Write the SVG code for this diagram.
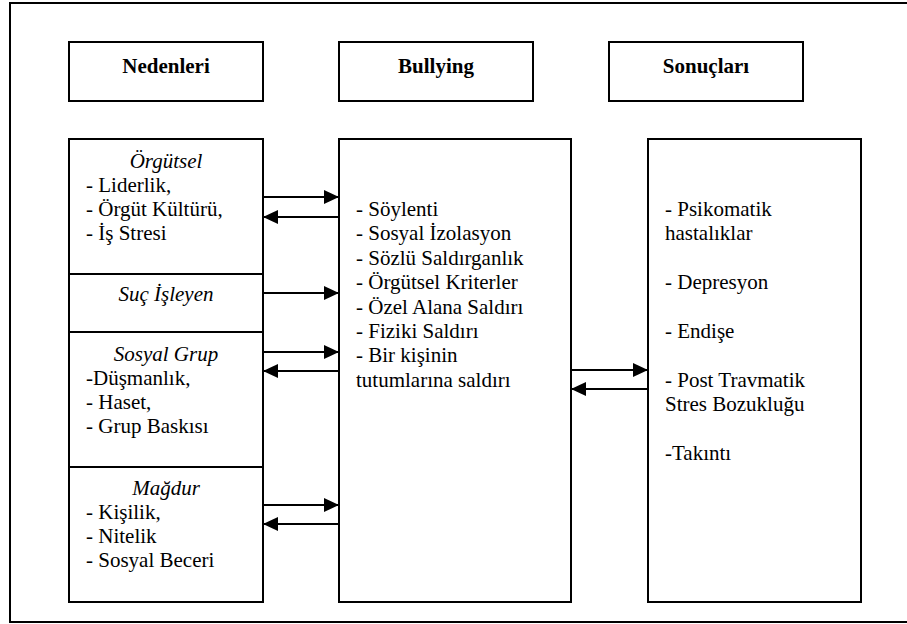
<svg xmlns="http://www.w3.org/2000/svg" width="907" height="624" viewBox="0 0 907 624">
<style>
.box{fill:#fff;stroke:#000;stroke-width:2}
.ln{stroke:#000;stroke-width:2;fill:none}
.t{font-family:"Liberation Serif","Times New Roman",serif;font-size:21px;fill:#000}
.h{font-weight:bold;text-anchor:middle}
.i{font-style:italic;text-anchor:middle}
.c{stroke:#000;stroke-width:2;fill:none}
</style>
<defs>
<marker id="ah" markerWidth="15" markerHeight="14" refX="15" refY="7" orient="auto" markerUnits="userSpaceOnUse">
<path d="M0,0 L15,7 L0,14 Z" fill="#000"/>
</marker>
</defs>
<rect width="907" height="624" fill="#fff"/>
<path class="ln" d="M910,3 H10 V622 H910"/>
<g id="h-nedenleri"><rect class="box" x="69" y="42" width="194" height="59"/><text class="t h" x="166" y="73">Nedenleri</text></g>
<g id="h-bullying"><rect class="box" x="339" y="42" width="194" height="59"/><text class="t h" x="436" y="73">Bullying</text></g>
<g id="h-sonuclari"><rect class="box" x="609" y="42" width="194" height="59"/><text class="t h" x="706" y="73">Sonuçları</text></g>
<g id="n-orgutsel"><rect class="box" x="69" y="139" width="194" height="135"/>
<text class="t i" x="166" y="168">Örgütsel</text>
<text class="t" x="86" y="192">- Liderlik,</text>
<text class="t" x="86" y="216">- Örgüt Kültürü,</text>
<text class="t" x="86" y="240">- İş Stresi</text></g>
<g id="n-suc"><rect class="box" x="69" y="274" width="194" height="58"/>
<text class="t i" x="166" y="301">Suç İşleyen</text></g>
<g id="n-sosyal"><rect class="box" x="69" y="332" width="194" height="135"/>
<text class="t i" x="166" y="361">Sosyal Grup</text>
<text class="t" x="86" y="385">-Düşmanlık,</text>
<text class="t" x="86" y="409">- Haset,</text>
<text class="t" x="86" y="433">- Grup Baskısı</text></g>
<g id="n-magdur"><rect class="box" x="69" y="467" width="194" height="135"/>
<text class="t i" x="166" y="495">Mağdur</text>
<text class="t" x="86" y="519">- Kişilik,</text>
<text class="t" x="86" y="543">- Nitelik</text>
<text class="t" x="86" y="567">- Sosyal Beceri</text></g>
<g id="n-bullying"><rect class="box" x="339" y="139" width="232" height="463"/>
<text class="t" x="356" y="216">- Söylenti</text>
<text class="t" x="356" y="240.4">- Sosyal İzolasyon</text>
<text class="t" x="356" y="264.8">- Sözlü Saldırganlık</text>
<text class="t" x="356" y="289.2">- Örgütsel Kriterler</text>
<text class="t" x="356" y="313.6">- Özel Alana Saldırı</text>
<text class="t" x="356" y="338">- Fiziki Saldırı</text>
<text class="t" x="356" y="362.4">- Bir kişinin</text>
<text class="t" x="356" y="386.8">tutumlarına saldırı</text></g>
<g id="n-sonuclar"><rect class="box" x="648" y="139" width="213" height="463"/>
<text class="t" x="665" y="216">- Psikomatik</text>
<text class="t" x="665" y="240.4">hastalıklar</text>
<text class="t" x="665" y="289.2">- Depresyon</text>
<text class="t" x="665" y="338">- Endişe</text>
<text class="t" x="665" y="386.8">- Post Travmatik</text>
<text class="t" x="665" y="411.2">Stres Bozukluğu</text>
<text class="t" x="665" y="460">-Takıntı</text></g>
<g id="connectors">
<line class="c" x1="263" y1="197" x2="339" y2="197" marker-end="url(#ah)"/>
<line class="c" x1="339" y1="217" x2="263" y2="217" marker-end="url(#ah)"/>
<line class="c" x1="263" y1="293" x2="339" y2="293" marker-end="url(#ah)"/>
<line class="c" x1="263" y1="352" x2="339" y2="352" marker-end="url(#ah)"/>
<line class="c" x1="339" y1="371" x2="263" y2="371" marker-end="url(#ah)"/>
<line class="c" x1="263" y1="505" x2="339" y2="505" marker-end="url(#ah)"/>
<line class="c" x1="339" y1="524" x2="263" y2="524" marker-end="url(#ah)"/>
<line class="c" x1="571" y1="370" x2="648" y2="370" marker-end="url(#ah)"/>
<line class="c" x1="648" y1="389" x2="571" y2="389" marker-end="url(#ah)"/>
</g>
</svg>
